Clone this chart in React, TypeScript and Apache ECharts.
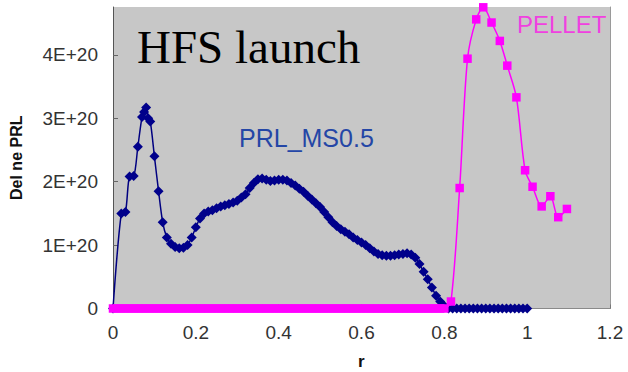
import React, { useEffect, useRef } from "react";
import * as echarts from "echarts";

// PRL_MS0.5 series (r, Del ne PRL in units of 1E+20)
const prlR = [
  0, 0.02, 0.03, 0.04, 0.05, 0.06, 0.07, 0.075, 0.08, 0.085, 0.09, 0.1, 0.11, 0.12, 0.13, 0.14,
  0.15, 0.16, 0.17, 0.18, 0.19, 0.2, 0.21, 0.22, 0.23, 0.24, 0.25, 0.26, 0.27, 0.28, 0.29, 0.3,
  0.31, 0.32, 0.33, 0.34, 0.35, 0.36, 0.37, 0.38, 0.39, 0.4, 0.41, 0.42, 0.43, 0.44, 0.45, 0.46,
  0.47, 0.48, 0.49, 0.5, 0.51, 0.52, 0.53, 0.54, 0.55, 0.56, 0.57, 0.58, 0.59, 0.6, 0.61, 0.62,
  0.63, 0.64, 0.65, 0.66, 0.67, 0.68, 0.69, 0.7, 0.71, 0.72, 0.73, 0.74, 0.75, 0.76, 0.77, 0.78,
  0.79, 0.8, 0.81, 0.82, 0.83, 0.84, 0.85, 0.86, 0.87, 0.88, 0.89, 0.9, 0.91, 0.92, 0.93, 0.94,
  0.95, 0.96, 0.97, 0.98, 0.99, 1.0,
];
const prlVal = [
  0, 1.5, 1.52, 2.08, 2.09, 2.55, 3.02, 3.1, 3.17, 3.0, 2.95, 2.4, 1.85, 1.36, 1.12, 1.02,
  0.97, 0.95, 0.96, 1.0, 1.12, 1.28, 1.42, 1.5, 1.53, 1.55, 1.58, 1.61, 1.63, 1.65, 1.67, 1.7,
  1.75, 1.8, 1.9, 1.98, 2.04, 2.05, 2.03, 2.01, 2.02, 2.03, 2.03, 2.02, 1.98, 1.94, 1.89, 1.84,
  1.78, 1.72, 1.66, 1.6, 1.52, 1.44, 1.36, 1.3, 1.25, 1.21, 1.17, 1.12, 1.08, 1.04, 1.0, 0.95,
  0.9, 0.86, 0.84, 0.83, 0.83, 0.84, 0.85, 0.86, 0.87, 0.85, 0.8, 0.7, 0.58, 0.46, 0.33, 0.2,
  0.11, 0.04, 0, 0, 0, 0, 0, 0, 0, 0, 0, 0, 0, 0, 0, 0,
  0, 0, 0, 0, 0, 0,
];

// PELLET series (r, Del ne PRL in units of 1E+20)
const pelletR = [
  0, 0.01, 0.02, 0.03, 0.04, 0.05, 0.06, 0.07, 0.08, 0.09, 0.1, 0.11, 0.12, 0.13, 0.14, 0.15,
  0.16, 0.17, 0.18, 0.19, 0.2, 0.21, 0.22, 0.23, 0.24, 0.25, 0.26, 0.27, 0.28, 0.29, 0.3, 0.31,
  0.32, 0.33, 0.34, 0.35, 0.36, 0.37, 0.38, 0.39, 0.4, 0.41, 0.42, 0.43, 0.44, 0.45, 0.46, 0.47,
  0.48, 0.49, 0.5, 0.51, 0.52, 0.53, 0.54, 0.55, 0.56, 0.57, 0.58, 0.59, 0.6, 0.61, 0.62, 0.63,
  0.64, 0.65, 0.66, 0.67, 0.68, 0.69, 0.7, 0.71, 0.72, 0.73, 0.74, 0.75, 0.76, 0.77, 0.78, 0.79,
  0.8, 0.816, 0.837, 0.856, 0.877, 0.894, 0.914, 0.934, 0.952, 0.974, 0.995, 1.013, 1.035, 1.056,
  1.075, 1.096,
];
const pelletVal = [
  0, 0, 0, 0, 0, 0, 0, 0, 0, 0, 0, 0, 0, 0, 0, 0,
  0, 0, 0, 0, 0, 0, 0, 0, 0, 0, 0, 0, 0, 0, 0, 0,
  0, 0, 0, 0, 0, 0, 0, 0, 0, 0, 0, 0, 0, 0, 0, 0,
  0, 0, 0, 0, 0, 0, 0, 0, 0, 0, 0, 0, 0, 0, 0, 0,
  0, 0, 0, 0, 0, 0, 0, 0, 0, 0, 0, 0, 0, 0, 0, 0,
  0, 0.11, 1.9, 3.94, 4.56, 4.75, 4.51, 4.22, 3.83, 3.33, 2.18, 1.92, 1.61, 1.77,
  1.44, 1.57,
];

const SCALE = 1e20;
const yTickLabels = ["0", "1E+20", "2E+20", "3E+20", "4E+20"];

export default function App() {
  const ref = useRef<HTMLDivElement>(null);
  useEffect(() => {
    if (!ref.current) return;
    const chart = echarts.init(ref.current, undefined, { renderer: "svg" });
    const font = "Liberation Sans, Arial, sans-serif";
    chart.setOption({
      animation: false,
      backgroundColor: "#ffffff",
      grid: {
        left: 113,
        right: 18,
        top: 7,
        bottom: 63.5,
        show: true,
        backgroundColor: "#c7c7c7",
        borderWidth: 0,
      },
      xAxis: {
        type: "value",
        min: 0,
        max: 1.2,
        interval: 0.2,
        axisLine: { show: true, onZero: false, lineStyle: { color: "#8a8a8a", width: 1 } },
        axisTick: { show: true, inside: true, length: 4, lineStyle: { color: "#777" } },
        splitLine: { show: false },
        axisLabel: {
          color: "#333",
          fontFamily: font,
          fontSize: 19,
          margin: 14,
          formatter: (v: number) => String(Math.round(v * 10) / 10),
        },
      },
      yAxis: [
        {
          type: "value",
          min: 0,
          max: 4.755 * SCALE,
          interval: SCALE,
          axisLine: { show: true, lineStyle: { color: "#555", width: 1 } },
          axisTick: { show: true, inside: true, length: 5, lineStyle: { color: "#666" } },
          splitLine: { show: false },
          axisLabel: {
            color: "#333",
            fontFamily: font,
            fontSize: 19,
            margin: 15,
            showMaxLabel: false,
            formatter: (v: number) => yTickLabels[Math.round(v / SCALE)] ?? "",
          },
          name: "Del ne PRL",
          nameLocation: "middle",
          nameGap: 89,
          nameRotate: 90,
          nameTextStyle: { color: "#111", fontFamily: font, fontSize: 16, fontWeight: "bold" },
        },
        {
          type: "value",
          position: "right",
          min: 0,
          max: 4.755 * SCALE,
          axisLine: { show: true, lineStyle: { color: "#9a9a9a", width: 1 } },
          axisTick: { show: false },
          axisLabel: { show: false },
          splitLine: { show: false },
        },
      ],
      series: [
        {
          name: "PRL_MS0.5",
          type: "line",
          data: prlR.map((r, i) => [r, prlVal[i] * SCALE]),
          smooth: 0.3,
          symbol: "diamond",
          symbolSize: 10,
          lineStyle: { color: "#000080", width: 1.5 },
          itemStyle: { color: "#00008b" },
          z: 2,
        },
        {
          name: "PELLET",
          type: "line",
          data: pelletR.map((r, i) => [r, pelletVal[i] * SCALE]),
          smooth: 0.3,
          symbol: "rect",
          symbolSize: 8.5,
          lineStyle: { color: "#ff00ff", width: 1.5 },
          itemStyle: { color: "#ff00ff" },
          z: 3,
        },
      ],
      graphic: [
        {
          type: "text",
          left: 137,
          top: 23,
          style: {
            text: "HFS launch",
            fontFamily: "Liberation Serif, Times New Roman, serif",
            fontSize: 47,
            fill: "#000",
          },
          z: 10,
        },
        {
          type: "text",
          left: 239,
          top: 125,
          style: {
            text: "PRL_MS0.5",
            fontFamily: font,
            fontSize: 25,
            fill: "#2446a6",
          },
          z: 10,
        },
        {
          type: "text",
          left: 517,
          top: 12,
          style: {
            text: "PELLET",
            fontFamily: font,
            fontSize: 24,
            fill: "#f040e0",
          },
          z: 10,
        },
        {
          type: "text",
          left: 358,
          top: 353,
          style: {
            text: "r",
            fontFamily: font,
            fontSize: 17,
            fontWeight: "bold",
            fill: "#111",
          },
          z: 10,
        },
      ],
    });
    return () => chart.dispose();
  }, []);
  return (
    <div
      ref={ref}
      style={{ position: "absolute", left: 0, top: 0, width: 628, height: 372 }}
    />
  );
}
